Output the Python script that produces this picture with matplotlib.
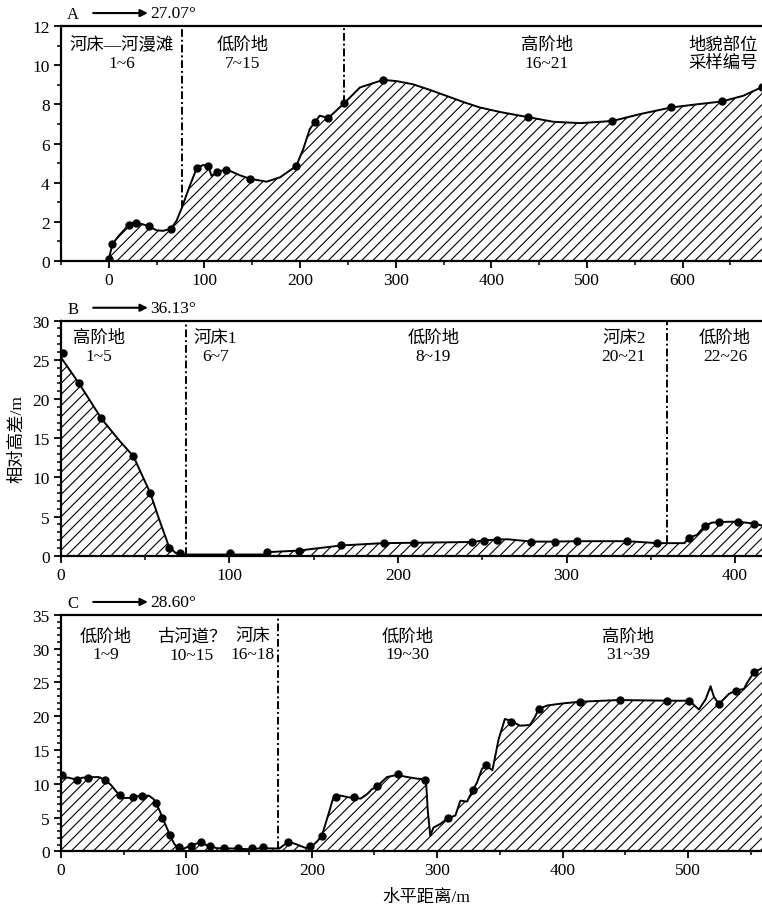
import numpy as np
import matplotlib
matplotlib.use('Agg')
import matplotlib.pyplot as plt
from matplotlib.ticker import MultipleLocator

plt.rcParams['font.family'] = ['Liberation Serif', 'Noto Sans CJK SC']
plt.rcParams['axes.unicode_minus'] = False
plt.rcParams['hatch.linewidth'] = 0.8

# ---- 剖面A ----
a_line_x = [0, 3.8, 9.8, 21, 28, 35.9, 42, 49.9, 56.8, 65, 70.8, 76.4, 84.7, 92, 98.7, 104,
            107.4, 113.5, 123, 137, 147.5, 165, 178.9, 196, 203.2, 210.1, 215.5, 220.6,
            229.5, 246, 262.6, 287, 301.6, 318.3, 335, 353.2, 370, 388, 410, 438, 464.8,
            492.7, 526.5, 555.4, 588, 614.8, 641.5, 663.5, 683]
a_line_y = [0.1, 0.85, 1.25, 1.85, 1.97, 1.87, 1.77, 1.57, 1.54, 1.65, 2.05, 2.72, 3.84,
            4.75, 4.9, 4.85, 4.35, 4.55, 4.68, 4.38, 4.2, 4.05, 4.27, 4.85, 5.7, 6.73, 7.1,
            7.42, 7.3, 8.05, 8.86, 9.25, 9.18, 9.02, 8.75, 8.43, 8.13, 7.84, 7.6, 7.35, 7.11,
            7.04, 7.15, 7.5, 7.84, 8.0, 8.15, 8.44, 8.88]
a_pt_x = [0, 3.8, 21, 28, 42, 65, 92, 104, 113.5, 123, 147.5, 196, 215.5, 229.5, 246,
          287, 438, 526.5, 588, 641.5, 683]
a_pt_y = [0.1, 0.85, 1.85, 1.95, 1.8, 1.65, 4.75, 4.85, 4.55, 4.65, 4.2, 4.85, 7.1, 7.3,
          8.05, 9.25, 7.35, 7.15, 7.85, 8.15, 8.9]
a_bounds = [76.4, 246]
a_labels = ['河床—河漫滩\n1~6', '低阶地\n7~15', '高阶地\n16~21', '地貌部位\n采样编号']
a_label_x = [13.5, 140, 458, 642]

# ---- 剖面B ----
b_line_x = [0, 10.7, 24, 35, 43, 47, 53, 58, 64, 68, 72, 100, 121, 122.5, 141, 166, 191,
            210, 244, 251, 258, 265, 279, 293, 306, 336, 354, 370, 372.5, 377.4, 382, 386,
            390.3, 401.6, 411, 417]
b_line_y = [25.3, 22.0, 17.5, 14.6, 12.7, 10.8, 8.0, 4.8, 1.2, 0.35, 0.15, 0.15, 0.15,
            0.45, 0.65, 1.3, 1.6, 1.65, 1.75, 1.95, 2.05, 2.1, 1.8, 1.8, 1.85, 1.85, 1.6,
            1.6, 2.3, 2.65, 3.8, 4.2, 4.3, 4.35, 4.1, 3.8]
b_pt_x = [1.4, 10.7, 24, 43, 53, 64.3, 70.8, 100.4, 122.4, 141, 166, 191.4, 209.7, 243.9,
          251, 258.9, 278.8, 292.9, 306.5, 336, 353.6, 372.4, 382, 390.3, 401.6, 411]
b_pt_y = [25.85, 22.0, 17.55, 12.7, 8.05, 0.95, 0.4, 0.3, 0.45, 0.64, 1.33, 1.62, 1.62,
          1.7, 1.92, 2.0, 1.75, 1.8, 1.9, 1.85, 1.58, 2.3, 3.8, 4.25, 4.33, 4.1]
b_bounds = [74.4, 359.5]
b_labels = ['高阶地\n1~5', '河床1\n6~7', '低阶地\n8~19', '河床2\n20~21', '低阶地\n22~26']
b_label_x = [22.6, 91.5, 221, 334, 394]

# ---- 剖面C ----
c_line_x = [0, 6, 12.5, 17, 22, 30, 35, 40, 44.5, 50, 57.7, 62, 70, 74, 78, 82, 86, 90,
            93, 98, 104, 111, 116, 120, 124, 140, 150, 160, 174, 181, 186, 195, 199, 204,
            208, 213, 217, 220, 223, 229, 233, 239, 244, 248, 252, 260, 268, 276, 284, 291,
            292.5, 294.5, 297, 302.5, 308.6, 314.5, 318.5, 323.8, 328.5, 331.8, 335.7,
            339.2, 344, 349, 354, 359, 366, 374, 378, 381, 388, 400, 414, 445, 484, 501,
            508.7, 514, 518, 520.6, 524.6, 532.6, 538, 544.6, 547.3, 552.5, 559]
c_line_y = [11.0, 10.9, 10.6, 10.9, 10.95, 11.0, 10.6, 9.8, 8.75, 7.9, 7.9, 8.2, 8.25,
            7.7, 6.3, 4.5, 2.8, 1.2, 0.45, 0.4, 0.9, 1.3, 0.9, 0.8, 0.45, 0.4, 0.3, 0.45,
            0.4, 1.35, 1.15, 0.5, 0.6, 1.4, 2.3, 5.3, 7.85, 8.1, 8.25, 8.0, 7.9, 7.8, 8.45,
            9.2, 9.6, 11.0, 11.3, 11.0, 10.75, 10.7, 6.0, 2.3, 3.5, 4.05, 4.9, 5.3, 7.5,
            7.35, 9.1, 10.2, 12.2, 12.7, 12.0, 16.6, 19.6, 19.3, 18.6, 18.7, 19.9, 21.1,
            21.6, 21.9, 22.15, 22.4, 22.3, 22.3, 21.0, 22.5, 24.45, 22.9, 21.8, 23.3, 23.8,
            24.05, 25.0, 26.5, 27.1]
c_pt_x = [1.0, 12.5, 21.8, 35.1, 47, 57.7, 64.4, 75.8, 80.3, 87, 94.2, 103.5, 111.5,
          118.9, 130, 141, 152.2, 161.5, 180.9, 198.7, 208, 219.5, 233.3, 252.4, 268.4,
          290.5, 308.6, 328.5, 339.2, 358.9, 381, 414.2, 445.6, 483.6, 500.7, 524.6, 538,
          552.5]
c_pt_y = [11.35, 10.6, 10.85, 10.55, 8.35, 8.1, 8.25, 7.1, 5.0, 2.4, 0.7, 0.85, 1.4, 0.85,
          0.55, 0.45, 0.55, 0.6, 1.4, 0.8, 2.3, 8.0, 8.0, 9.6, 11.4, 10.6, 5.0, 9.1, 12.8,
          19.2, 21.1, 22.15, 22.45, 22.3, 22.3, 21.8, 23.8, 26.5]
c_bounds = [173.4]
c_labels = ['低阶地\n1~9', '古河道？\n10~15', '河床\n16~18', '低阶地\n19~30', '高阶地\n31~39']
c_label_x = [36, 104, 153, 276.5, 452]

fig = plt.figure(figsize=(7.62, 9.12), dpi=100)
FS = 12.5

panels = [
    # rect, line, points, bounds, labels, xlim, ylim, y ticks, letter, angle, label y
    ([0.080, 0.7127, 0.920, 0.2577], a_line_x, a_line_y, a_pt_x, a_pt_y, a_bounds,
     a_labels, a_label_x, (-50, 683), (0, 12), 2, 1, 'A', '27.07°', 11.45),
    ([0.080, 0.3896, 0.920, 0.2577], b_line_x, b_line_y, b_pt_x, b_pt_y, b_bounds,
     b_labels, b_label_x, (0, 416), (0, 30), 5, 1, 'B', '36.13°', 28.8),
    ([0.080, 0.0655, 0.920, 0.2591], c_line_x, c_line_y, c_pt_x, c_pt_y, c_bounds,
     c_labels, c_label_x, (0, 559), (0, 35), 5, 1, 'C', '28.60°', 33.0),
]

for (rect, lx, ly, px, py, bounds, labels, lab_x, xlim, ylim, ymaj, ymin,
     letter, angle, lab_y) in panels:
    ax = fig.add_axes(rect)
    ax.fill_between(lx, ly, 0, facecolor='none', edgecolor='k', hatch='///', linewidth=0)
    ax.plot(lx, ly, color='k', lw=1.4)
    ax.plot(px, py, 'o', color='k', ms=5)
    for b in bounds:
        yb = np.interp(b, lx, ly)
        ax.plot([b, b], [yb, ylim[1]], color='k', lw=1.4, ls=(0, (4, 1.5, 1, 1.5)))
    for t, x in zip(labels, lab_x):
        ax.text(x, lab_y, t, ha='center', va='top', fontsize=FS, linespacing=1.15)
    ax.set_xlim(*xlim)
    ax.set_ylim(*ylim)
    ax.xaxis.set_major_locator(MultipleLocator(100))
    ax.xaxis.set_minor_locator(MultipleLocator(50))
    ax.yaxis.set_major_locator(MultipleLocator(ymaj))
    ax.yaxis.set_minor_locator(MultipleLocator(ymin))
    ax.spines['right'].set_visible(False)
    for s in ['left', 'bottom', 'top']:
        ax.spines[s].set_linewidth(1.6)
    ax.tick_params(which='major', direction='out', length=5, width=1.3, labelsize=FS, pad=3)
    ax.tick_params(which='minor', direction='out', length=3, width=1.1)
    ax.tick_params(axis='x', which='both', top=False)
    ax.text(0.009, 1.050, letter, transform=ax.transAxes, ha='left', va='center', fontsize=12)
    ax.annotate('', xy=(0.124, 1.055), xytext=(0.046, 1.055), xycoords='axes fraction',
                arrowprops=dict(arrowstyle='-|>', lw=1.5, color='k', mutation_scale=11,
                                shrinkA=0, shrinkB=0))
    ax.text(0.127, 1.055, angle, transform=ax.transAxes, ha='left', va='center',
            fontsize=FS)
    if letter == 'B':
        ax.set_ylabel('相对高差/m', fontsize=FS, labelpad=5)

fig.text(0.559, 0.0154, '水平距离/m', ha='center', va='center', fontsize=FS)

fig.savefig('out.png', dpi=100)
